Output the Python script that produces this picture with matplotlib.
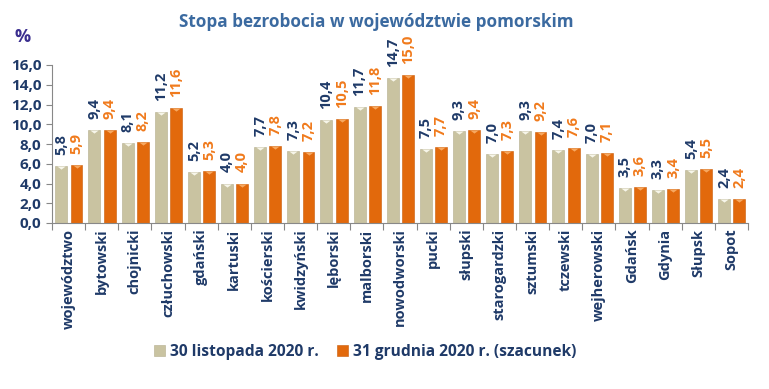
import matplotlib
matplotlib.use("Agg")
import matplotlib.pyplot as plt
import numpy as np
from matplotlib.ticker import FuncFormatter, FixedLocator

plt.rcParams['font.family'] = ['Open Sans', 'DejaVu Sans']

categories = ["województwo", "bytowski", "chojnicki", "człuchowski", "gdański",
              "kartuski", "kościerski", "kwidzyński", "lęborski", "malborski",
              "nowodworski", "pucki", "słupski", "starogardzki", "sztumski",
              "tczewski", "wejherowski", "Gdańsk", "Gdynia", "Słupsk", "Sopot"]
nov_2020 = [5.8, 9.4, 8.1, 11.2, 5.2, 4.0, 7.7, 7.3, 10.4, 11.7, 14.7,
            7.5, 9.3, 7.0, 9.3, 7.4, 7.0, 3.5, 3.3, 5.4, 2.4]
dec_2020 = [5.9, 9.4, 8.2, 11.6, 5.3, 4.0, 7.8, 7.2, 10.5, 11.8, 15.0,
            7.7, 9.4, 7.3, 9.2, 7.6, 7.1, 3.6, 3.4, 5.5, 2.4]
series_names = ["30 listopada 2020 r.", "31 grudnia 2020 r. (szacunek)"]
yticks = [0, 2, 4, 6, 8, 10, 12, 14, 16]

navy = "#1f3a68"
orange_txt = "#f07a1c"
gray_bar = "#c9c3a1"
orange_bar = "#e2690c"

fig = plt.figure(figsize=(7.69, 3.89), dpi=100)
ax = fig.add_axes([52/769, (389-223)/389, (748-52)/769, (223-65)/389])

x = np.arange(len(categories))
w = 0.36
b1 = ax.bar(x - 0.22, nov_2020, w, color=gray_bar, edgecolor="#b3ad8c", linewidth=0.4,
            label=series_names[0], zorder=2)
b2 = ax.bar(x + 0.24, dec_2020, w, color=orange_bar, edgecolor="#c95c08", linewidth=0.4,
            label=series_names[1], zorder=2)
# highlight triangles at bar tops (top edge sits on the bar top)
tri = [(-1, 0), (1, 0), (0, -0.75), (-1, 0)]
ax.plot(x - 0.22, nov_2020, linestyle="none", marker=tri, markersize=6,
        color="#f7f6ea", markeredgewidth=0, zorder=3)
ax.plot(x + 0.24, dec_2020, linestyle="none", marker=tri, markersize=6,
        color="#f7a860", markeredgewidth=0, zorder=3)

fmt = lambda v: f"{v:.1f}".replace(".", ",")
for xi, v in zip(x - 0.22, nov_2020):
    ax.annotate(fmt(v), (xi, v), xytext=(0, 8), textcoords="offset points",
                rotation=90, ha="center", va="bottom", color=navy,
                fontsize=10.5, fontweight="bold")
for xi, v in zip(x + 0.24, dec_2020):
    ax.annotate(fmt(v), (xi, v), xytext=(0, 8), textcoords="offset points",
                rotation=90, ha="center", va="bottom", color=orange_txt,
                fontsize=10.5, fontweight="bold")

ax.set_xlim(-0.5, len(categories) - 0.5)
ax.set_ylim(0, 16)
ax.set_yticks(yticks)
ax.yaxis.set_major_formatter(FuncFormatter(lambda v, p: fmt(v)))
ax.tick_params(axis="y", colors="#888888", labelcolor=navy, labelsize=11,
               length=4, width=0.8, direction="out")
for lab in ax.get_yticklabels():
    lab.set_fontweight("bold")

ax.set_xticks(x)
ax.set_xticklabels(categories, rotation=90, fontsize=10.5, fontweight="bold",
                   color=navy, va="top")
ax.tick_params(axis="x", which="major", length=0, pad=4)
ax.xaxis.set_minor_locator(FixedLocator(np.arange(-0.5, len(categories), 1)))
ax.tick_params(axis="x", which="minor", length=5, width=0.8, colors="#888888")

for s in ["top", "right"]:
    ax.spines[s].set_visible(False)
ax.spines["left"].set_color("#888888")
ax.spines["bottom"].set_color("#888888")

fig.text(376/769, 1 - 22/389, "Stopa bezrobocia w województwie pomorskim",
         ha="center", va="center", color="#3b6aa0", fontsize=12.3, fontweight="bold")
fig.text(23/769, 1 - 37/389, "%", ha="center", va="center", color="#3b2f8f",
         fontsize=13, fontweight="bold")

leg = fig.legend(handles=[b1, b2], labels=series_names, loc="center",
                 bbox_to_anchor=(365/769, 1 - 352/389), ncol=2, frameon=False,
                 prop={"weight": "bold", "size": 11.2}, handlelength=0.7,
                 handleheight=0.7, handletextpad=0.3, columnspacing=1.2)
for t in leg.get_texts():
    t.set_color(navy)

fig.savefig("out.png", dpi=100)
